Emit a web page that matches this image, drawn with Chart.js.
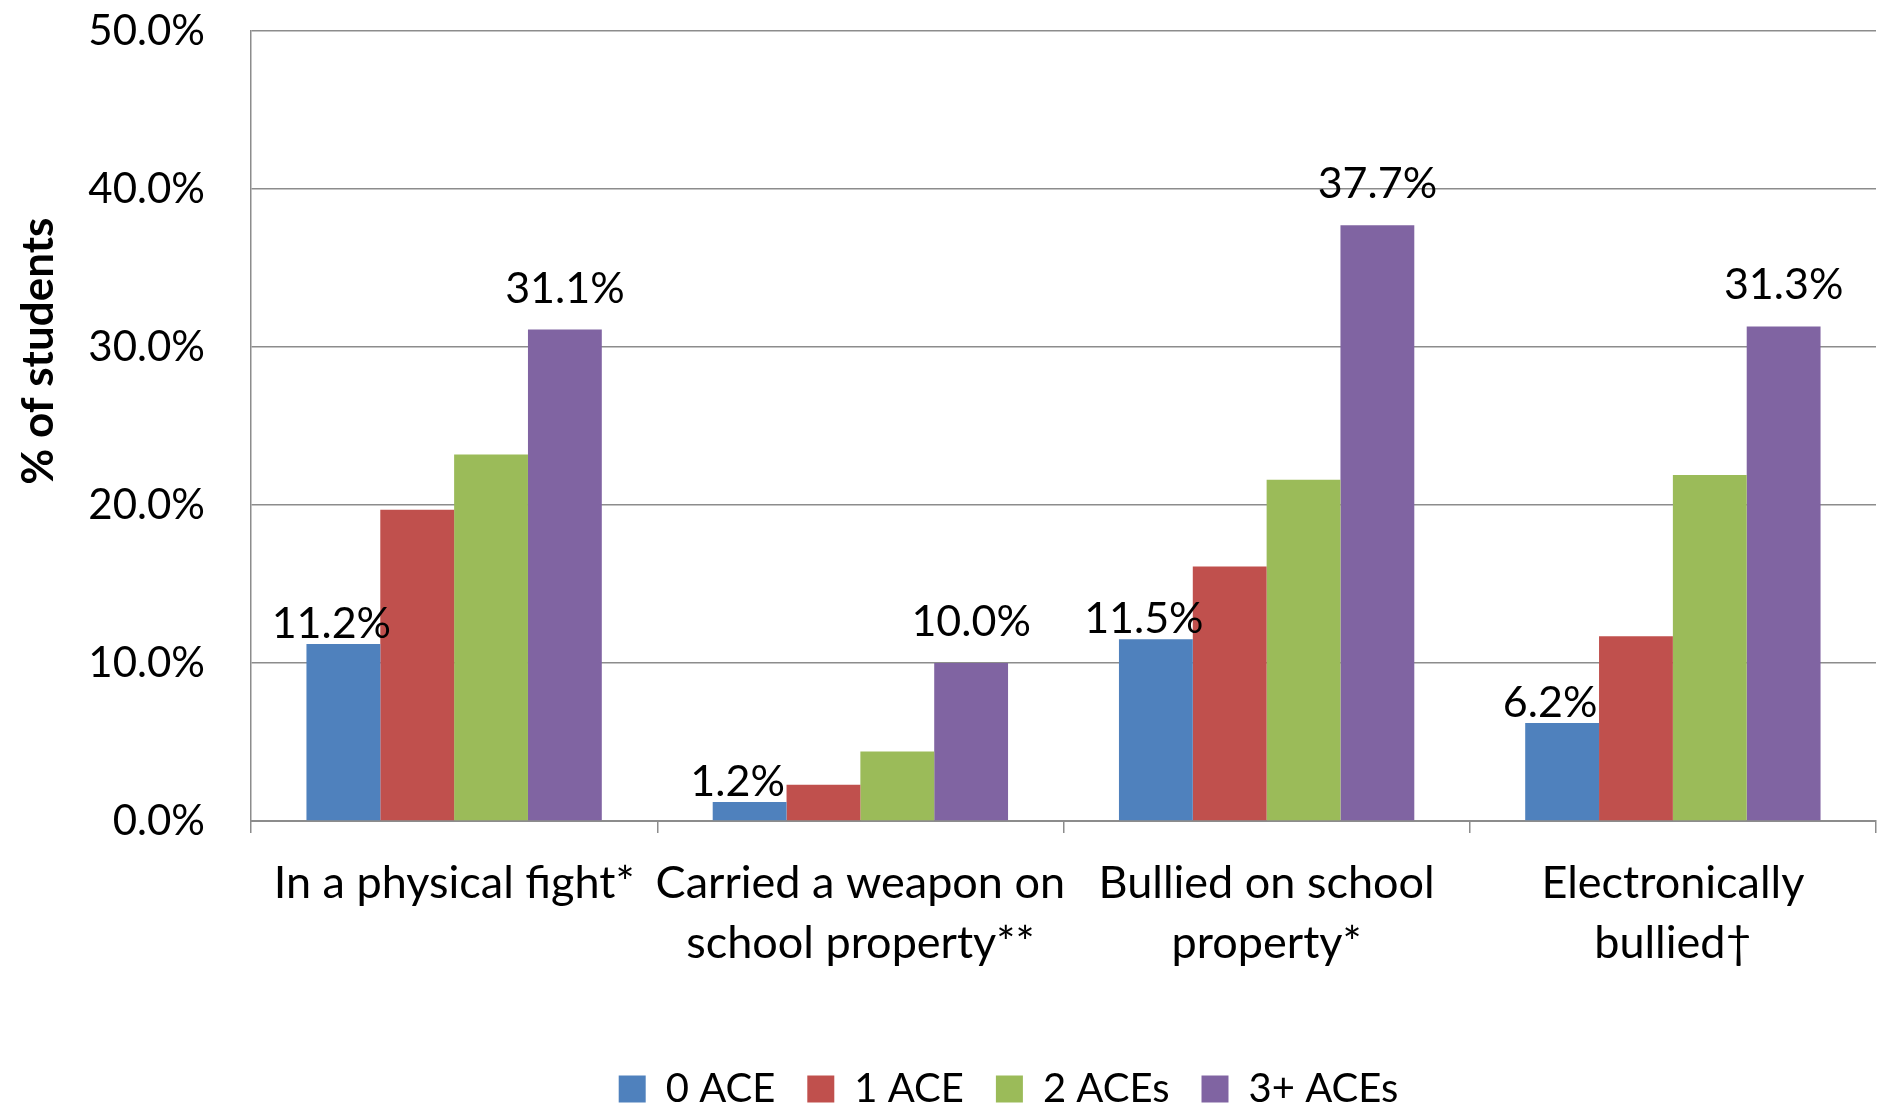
<!DOCTYPE html>
<html>
<head>
<meta charset="utf-8">
<script src="https://cdn.jsdelivr.net/npm/chart.js@4.4.1/dist/chart.umd.min.js"></script>
<style>
  html, body { margin: 0; padding: 0; background: #fff; }
  #wrap { width: 1878px; height: 1105px; position: relative; }
</style>
</head>
<body>
<div id="wrap"><canvas id="chart"></canvas></div>
<script>
// categories (x axis), multi-line like the original
const categories = [
  'In a physical fight*',
  ['Carried a weapon on', 'school property**'],
  ['Bullied on school', 'property*'],
  ['Electronically', 'bullied\u2020']
];
const seriesNames = ['0 ACE', '1 ACE', '2 ACEs', '3+ ACEs'];
const ace0 = [11.2, 1.2, 11.5, 6.2];
const ace1 = [19.7, 2.3, 16.1, 11.7];
const ace2 = [23.2, 4.4, 21.6, 21.9];
const ace3 = [31.1, 10.0, 37.7, 31.3];
const yTicks = [0, 10, 20, 30, 40, 50];

const colors = ['#4F81BD', '#C0504D', '#9BBB59', '#8064A2'];
const FONT = 'Lato, "Open Sans", sans-serif';

// value labels only shown for first and last series, like the excel chart
const labelOffsets = { 0: { dx: -12, dy: 6 }, 3: { dx: 0, dy: 27 } };

const valueLabels = {
  id: 'valueLabels',
  afterDatasetsDraw(chart) {
    const ctx = chart.ctx;
    ctx.save();
    ctx.font = '43px ' + FONT;
    ctx.fillStyle = '#000';
    ctx.textAlign = 'center';
    ctx.textBaseline = 'alphabetic';
    Object.keys(labelOffsets).forEach(function(k) {
      const idx = +k;
      const meta = chart.getDatasetMeta(idx);
      const off = labelOffsets[k];
      meta.data.forEach(function(bar, i) {
        const v = chart.data.datasets[idx].data[i];
        ctx.fillText(v.toFixed(1) + '%', bar.x + off.dx, bar.y - off.dy);
      });
    });
    ctx.restore();
  }
};

// the original legend sits a bit left of the plot centre
const legendShift = {
  id: 'legendShift',
  afterLayout(chart) {
    const lg = chart.legend;
    if (lg) { lg.left -= 55; lg.right -= 55; }
  }
};

const allSeries = [ace0, ace1, ace2, ace3];
const datasets = allSeries.map(function(vals, i) {
  return {
    label: seriesNames[i],
    data: vals,
    backgroundColor: colors[i],
    borderWidth: 0,
    categoryPercentage: 0.727,
    barPercentage: 1.0
  };
});

new Chart(document.getElementById('chart'), {
  type: 'bar',
  data: { labels: categories, datasets: datasets },
  plugins: [valueLabels, legendShift],
  options: {
    responsive: true,
    maintainAspectRatio: false,
    animation: false,
    layout: { padding: { top: 31, right: 2, left: 0, bottom: -14 } },
    plugins: {
      tooltip: { enabled: false },
      legend: {
        position: 'bottom',
        fullSize: false,
        labels: {
          boxWidth: 27,
          boxHeight: 27,
          padding: 32,
          color: '#000',
          font: { family: FONT, size: 40 }
        }
      }
    },
    scales: {
      x: {
        grid: {
          offset: true,
          drawOnChartArea: false,
          tickLength: 12,
          color: '#8c8c8c',
          lineWidth: 1.5
        },
        border: { color: '#8c8c8c', width: 2 },
        ticks: {
          color: '#000',
          padding: 21,
          maxRotation: 0,
          autoSkip: false,
          font: { family: FONT, size: 45, lineHeight: 1.33 }
        },
        afterFit: function(scale) {
          scale.height = 216;
          scale.paddingLeft = 0;
          scale.paddingRight = 0;
        }
      },
      y: {
        min: 0,
        max: 50,
        afterBuildTicks: function(scale) {
          scale.ticks = yTicks.map(function(v) { return { value: v }; });
        },
        grid: { color: '#8c8c8c', lineWidth: 1.5, drawTicks: false },
        border: { color: '#8c8c8c', width: 1.5 },
        ticks: {
          color: '#000',
          padding: 46,
          font: { family: FONT, size: 42 },
          callback: function(v) { return v.toFixed(1) + '%'; }
        },
        title: {
          display: true,
          // leading spaces lift the title above the axis centre as in the original
          text: '              % of students',
          color: '#000',
          padding: { top: 12, bottom: 0 },
          font: { family: FONT, size: 44, weight: 'bold' }
        },
        afterFit: function(scale) {
          scale.width = 251;
          scale.paddingTop = 0;
          scale.paddingBottom = 0;
        }
      }
    }
  }
});
</script>
</body>
</html>
